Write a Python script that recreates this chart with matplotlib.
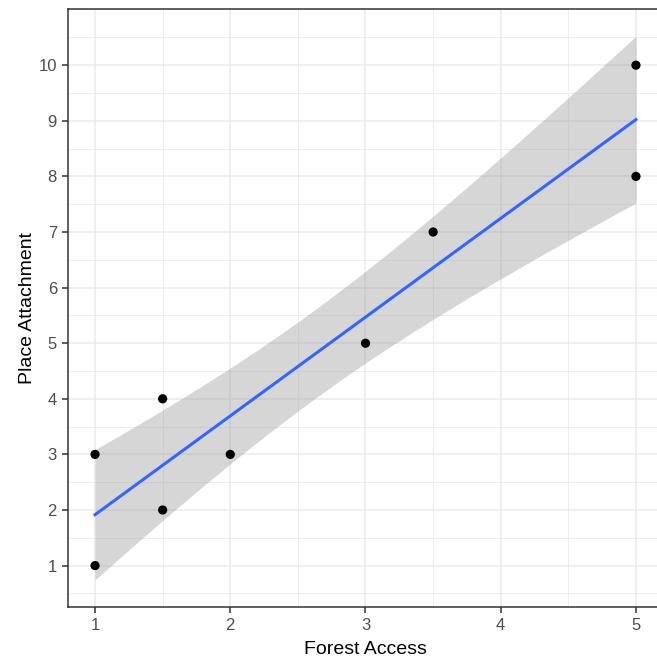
import numpy as np
import matplotlib
matplotlib.use("Agg")
import matplotlib.pyplot as plt

plt.rcParams['font.family'] = ['Liberation Sans', 'DejaVu Sans']

# data
forest_access = [1, 1, 1.5, 1.5, 2, 3, 3.5, 5, 5]
place_attachment = [1, 3, 2, 4, 3, 5, 7, 8, 10]
x_ticks = [1, 2, 3, 4, 5]
y_ticks = [1, 2, 3, 4, 5, 6, 7, 8, 9, 10]

x = np.array(forest_access, dtype=float)
y = np.array(place_attachment, dtype=float)

# linear fit with 95% confidence band (like geom_smooth(method="lm"))
slope, intercept = np.polyfit(x, y, 1)
n = len(x)
resid = y - (slope * x + intercept)
s = np.sqrt(np.sum(resid ** 2) / (n - 2))
sxx = np.sum((x - x.mean()) ** 2)
t_crit = 2.364624  # t(0.975, df=7)

xs = np.linspace(x.min(), x.max(), 80)
fit = slope * xs + intercept
se = s * np.sqrt(1.0 / n + (xs - x.mean()) ** 2 / sxx)
lo = fit - t_crit * se
hi = fit + t_crit * se

fig = plt.figure(figsize=(6.57, 6.58), dpi=100)
W, H = 657, 658
ax = fig.add_axes([68 / W, (H - 607) / H, 595 / W, 598 / H])

ax.fill_between(xs, lo, hi, color="#999999", alpha=0.4, linewidth=0, zorder=2)
ax.plot(xs, fit, color="#3366FF", linewidth=2.2, zorder=3)
ax.scatter(x, y, s=44, color="black", zorder=4, edgecolors="none")

# ggplot-style expanded limits
xr = x.max() - x.min()
ax.set_xlim(x.min() - 0.05 * xr, x.max() + 0.05 * xr)
ymin, ymax = min(lo.min(), y.min()), max(hi.max(), y.max())
yr = ymax - ymin
ax.set_ylim(ymin - 0.05 * yr, ymax + 0.05 * yr)

ax.set_xticks(x_ticks)
ax.set_yticks(y_ticks)
ax.set_xticks([1.5, 2.5, 3.5, 4.5], minor=True)
ax.set_yticks(np.arange(0.5, 11, 1.0), minor=True)
ax.grid(which="major", color="#EBEBEB", linewidth=1.1, zorder=0)
ax.grid(which="minor", color="#EBEBEB", linewidth=0.6, zorder=0)
ax.set_axisbelow(True)

for sp in ax.spines.values():
    sp.set_color("#333333")
    sp.set_linewidth(1.1)
ax.spines["right"].set_visible(False)

ax.tick_params(which="major", length=4, width=1.1, color="#333333",
               labelcolor="#4D4D4D", labelsize=12, pad=4)
ax.tick_params(which="minor", length=0)

ax.set_xlabel("Forest Access", fontsize=14, color="black", labelpad=6)
ax.set_ylabel("Place Attachment", fontsize=14, color="black", labelpad=2)

fig.savefig("out.png", dpi=100)
